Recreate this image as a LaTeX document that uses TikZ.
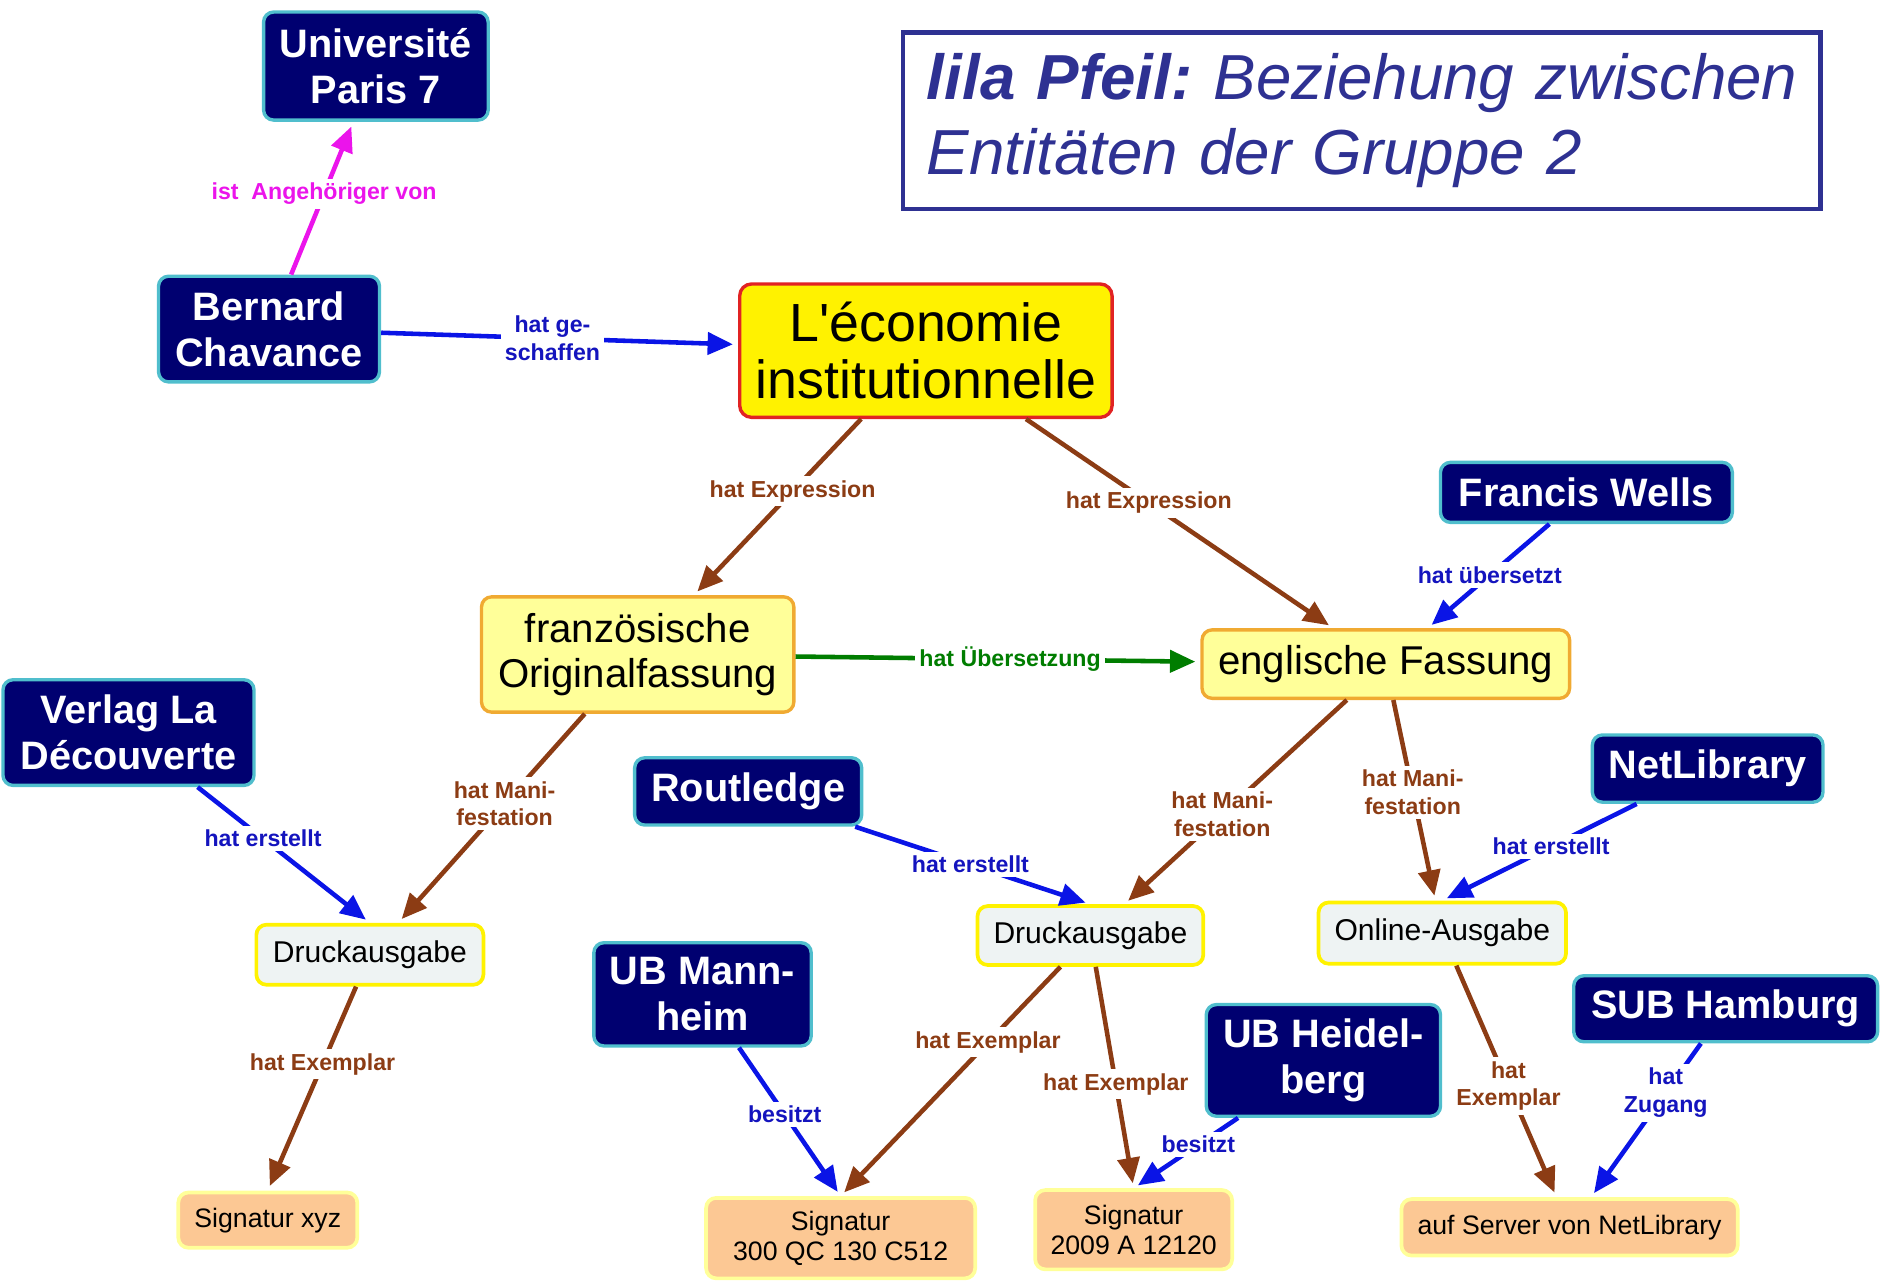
\documentclass[tikz,border=0pt]{standalone}
\usepackage{fontspec}
\setmainfont{Liberation Sans}
\usetikzlibrary{arrows.meta}
\definecolor{navy}{RGB}{0,0,112}
\definecolor{cyanrim}{RGB}{80,190,205}
\definecolor{relbrown}{RGB}{140,60,20}
\definecolor{relblue}{RGB}{10,20,230}
\definecolor{lblblue}{RGB}{20,20,190}
\definecolor{relgreen}{RGB}{0,125,0}
\definecolor{relmagenta}{RGB}{235,20,235}
\definecolor{titleblue}{RGB}{46,49,146}
\definecolor{palebox}{RGB}{255,255,153}
\definecolor{orangerim}{RGB}{240,170,50}
\definecolor{greybox}{RGB}{238,243,243}
\definecolor{peach}{RGB}{252,200,148}
\definecolor{econred}{RGB}{225,35,35}
\tikzset{
    agent/.style={draw=cyanrim, fill=navy, line width=2pt, rounded corners=6pt, text=white, align=center, inner sep=2pt, font=\fontsize{23.5}{27.4}\selectfont\bfseries}, % 人物与机构
    work/.style={draw=econred, fill=yellow, line width=2pt, rounded corners=7pt, align=center, inner sep=2pt, font=\fontsize{31.8}{34.1}\selectfont}, % 作品
    expr/.style={draw=orangerim, fill=palebox, line width=2pt, rounded corners=6pt, align=center, inner sep=2pt, font=\fontsize{23.8}{27}\selectfont}, % 表现形式
    manif/.style={draw=yellow, fill=greybox, line width=2.2pt, rounded corners=6pt, align=center, inner sep=2pt, font=\fontsize{17.8}{20}\selectfont}, % 载体表现
    exemplar/.style={draw=palebox, fill=peach, line width=2.2pt, rounded corners=6pt, align=center, inner sep=2pt, font=\fontsize{15.8}{17.8}\selectfont}, % 单件
    rel/.style={line width=2.7pt, -{Triangle[length=15pt, width=13pt]}, shorten >=3pt}, % 关系箭头
    lbl/.style={fill=white, inner sep=2.5pt, align=center, font=\fontsize{13.7}{16.4}\selectfont\bfseries} % 箭头标签
}
\begin{document}
\begin{tikzpicture}[x=0.025cm, y=-0.025cm]
    \useasboundingbox (0,0) rectangle (1568,1068);

    \node[draw=titleblue, line width=2.8pt, text=titleblue, minimum width=19.1cm, minimum height=3.675cm, text width=18.1cm, align=left, font=\fontsize{37.7}{44.8}\selectfont\itshape\frenchspacing] (legend) at (1134,100.5) {\mbox{{\bfseries lila Pfeil:} Beziehung zwischen}\\Entitäten der Gruppe 2};

    \node[agent, minimum width=4.675cm, minimum height=2.25cm] (univ) at (313,55) {Université\\Paris 7};
    \node[agent, minimum width=4.6cm, minimum height=2.2cm] (bernard) at (224,274) {Bernard\\Chavance};
    \node[work, minimum width=7.75cm, minimum height=2.775cm] (econ) at (771,292) {L\textquotesingle économie\\institutionnelle};
    \node[agent, minimum width=6.075cm, minimum height=1.25cm] (wells) at (1321,410) {Francis Wells};
    \node[expr, minimum width=6.5cm, minimum height=2.4cm] (franz) at (531,545) {französische\\Originalfassung};
    \node[expr, minimum width=7.65cm, minimum height=1.425cm] (engl) at (1154,553) {englische Fassung};
    \node[agent, minimum width=5.225cm, minimum height=2.2cm] (verlag) at (107,610) {Verlag La\\Découverte};
    \node[agent, minimum width=4.725cm, minimum height=1.4cm] (routledge) at (623,659) {Routledge};
    \node[agent, minimum width=4.8cm, minimum height=1.4cm] (netlib) at (1422,640) {NetLibrary};
    \node[manif, minimum width=4.725cm, minimum height=1.25cm] (druckL) at (308,795) {Druckausgabe};
    \node[manif, minimum width=4.7cm, minimum height=1.225cm] (druckM) at (908,779) {Druckausgabe};
    \node[manif, minimum width=5.15cm, minimum height=1.275cm] (online) at (1201,777) {Online-Ausgabe};
    \node[agent, minimum width=4.525cm, minimum height=2.15cm] (ubma) at (585,828) {UB Mann-\\heim};
    \node[agent, minimum width=4.875cm, minimum height=2.325cm] (ubhd) at (1102,883) {UB Heidel-\\berg};
    \node[agent, minimum width=6.325cm, minimum height=1.375cm] (subhh) at (1437,840) {SUB Hamburg};
    \node[exemplar, minimum width=3.725cm, minimum height=1.15cm] (sigxyz) at (223,1016) {Signatur xyz};
    \node[exemplar, minimum width=5.6cm, minimum height=1.675cm] (sigqc) at (700,1031) {Signatur\\300 QC 130 C512};
    \node[exemplar, minimum width=4.1cm, minimum height=1.65cm] (sigA) at (944,1024) {Signatur\\2009 A 12120};
    \node[exemplar, minimum width=7cm, minimum height=1.175cm] (server) at (1307,1022) {auf Server von NetLibrary};

    \draw[rel, relmagenta] (bernard) -- node[lbl, text=relmagenta, pos=.53] {ist~~Angehöriger von} (univ);
    \draw[rel, relblue] (bernard) -- node[lbl, text=lblblue, pos=.48] {hat ge-\\schaffen} (econ);
    \draw[rel, relbrown] (econ) -- node[lbl, text=relbrown, pos=.41] {hat Expression} (franz);
    \draw[rel, relbrown] (econ) -- node[lbl, text=relbrown, pos=.40] {hat Expression} (engl);
    \draw[rel, relblue] (wells) -- node[lbl, text=lblblue, pos=.49] {hat übersetzt} (engl);
    \draw[rel, relgreen] (franz) -- node[lbl, text=relgreen, pos=.53] {hat Übersetzung} (engl);
    \draw[rel, relbrown] (franz) -- node[lbl, text=relbrown, pos=.43] {hat Mani-\\festation} (druckL);
    \draw[rel, relblue] (verlag) -- node[lbl, text=lblblue, pos=.38] {hat erstellt} (druckL.north);
    \draw[rel, relbrown] (druckL) -- node[lbl, text=relbrown, pos=.38] {hat Exemplar} (sigxyz.north);
    \draw[rel, relbrown] (engl) -- node[lbl, text=relbrown, pos=.56] {hat Mani-\\festation} (druckM);
    \draw[rel, relbrown] (engl) -- node[lbl, text=relbrown, pos=.46] {hat Mani-\\festation} (online);
    \draw[rel, relblue] (routledge) -- node[lbl, text=lblblue, pos=.49] {hat erstellt} (druckM.north);
    \draw[rel, relblue] (netlib) -- node[lbl, text=lblblue, pos=.44] {hat erstellt} (online.north);
    \draw[rel, relbrown] (druckM) -- node[lbl, text=relbrown, pos=.33] {hat Exemplar} (sigqc.north);
    \draw[rel, relbrown] (druckM) -- node[lbl, text=relbrown, pos=.53] {hat Exemplar} (sigA.north);
    \draw[rel, relblue] (ubma) -- node[lbl, text=lblblue, pos=.45] {besitzt} (sigqc.north);
    \draw[rel, relblue] (ubhd) -- node[lbl, text=lblblue, pos=.38] {besitzt} (sigA.north);
    \draw[rel, relbrown] (online) -- node[lbl, text=relbrown, pos=.52] {hat\\Exemplar} (server);
    \draw[rel, relblue] (subhh) -- node[lbl, text=lblblue, pos=.32] {hat\\Zugang} (server);
\end{tikzpicture}
\end{document}
